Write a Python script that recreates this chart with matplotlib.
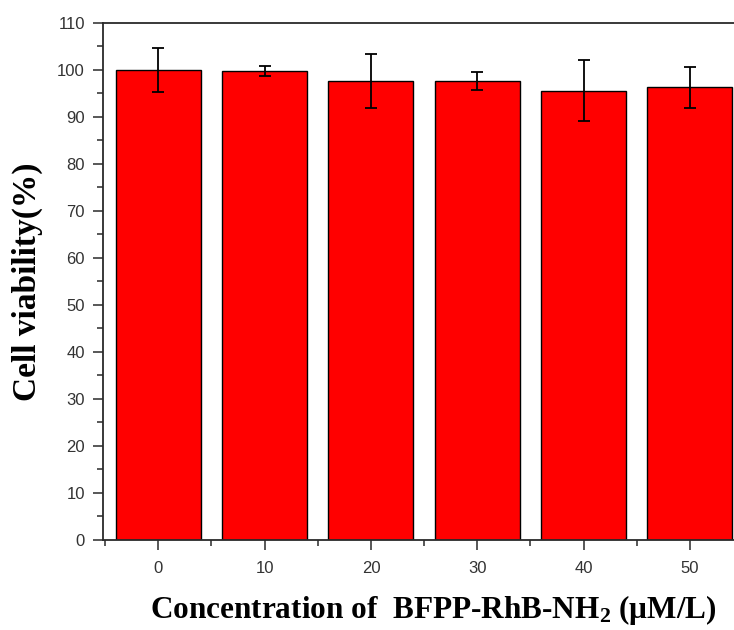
import matplotlib
matplotlib.use("Agg")
import matplotlib.pyplot as plt
from matplotlib.ticker import MultipleLocator

# data
conc = ['0', '10', '20', '30', '40', '50']
viability = [100.0, 99.7, 97.6, 97.6, 95.6, 96.3]
err = [4.6, 1.05, 5.7, 1.9, 6.45, 4.4]

plt.rcParams['mathtext.fontset'] = 'custom'
plt.rcParams['mathtext.rm'] = 'Liberation Serif:bold'
plt.rcParams['mathtext.default'] = 'rm'

fig = plt.figure(figsize=(7.34, 6.3), dpi=100)
# axes runs past the right edge, the original image is cropped there
ax = fig.add_axes([0.1403, 0.1429, 0.875, 0.8206])

x = list(range(len(conc)))
ax.bar(x, viability, width=0.8, color='#ff0000', edgecolor='black', linewidth=1.0,
       yerr=err, capsize=4, error_kw=dict(ecolor='black', elinewidth=1.3, capthick=1.3))

ax.set_xlim(-0.52, 5.52)
ax.set_ylim(0, 110)
ax.set_xticks(x)
ax.set_xticklabels(conc)
ax.set_xticks([i + 0.5 for i in range(-1, 6)], minor=True)
ax.yaxis.set_major_locator(MultipleLocator(10))
ax.yaxis.set_minor_locator(MultipleLocator(5))

for side in ['left', 'bottom', 'top', 'right']:
    ax.spines[side].set_color('#2a2a2a')
    ax.spines[side].set_linewidth(1.3)

ax.tick_params(which='major', direction='out', length=7, width=1.1, color='#2a2a2a',
               labelsize=12, labelcolor='#333333', pad=6)
ax.tick_params(which='minor', direction='out', length=4, width=1.1, color='#2a2a2a')
ax.tick_params(axis='x', which='major', pad=8)
for lab in ax.get_xticklabels() + ax.get_yticklabels():
    lab.set_fontfamily('Liberation Sans')

ax.set_ylabel('Cell viability(%)', fontfamily='Liberation Serif', fontweight='bold',
              fontsize=24)
ax.yaxis.set_label_coords(-0.094, 0.5)
ax.set_xlabel('Concentration of  BFPP-RhB-NH$_2$ (\u03bcM/L)', fontfamily='Liberation Serif',
              fontweight='bold', fontsize=22.5)
ax.xaxis.set_label_coords((433 - 103) / (0.875 * 734), -0.103)

fig.savefig('out.png', dpi=100)
